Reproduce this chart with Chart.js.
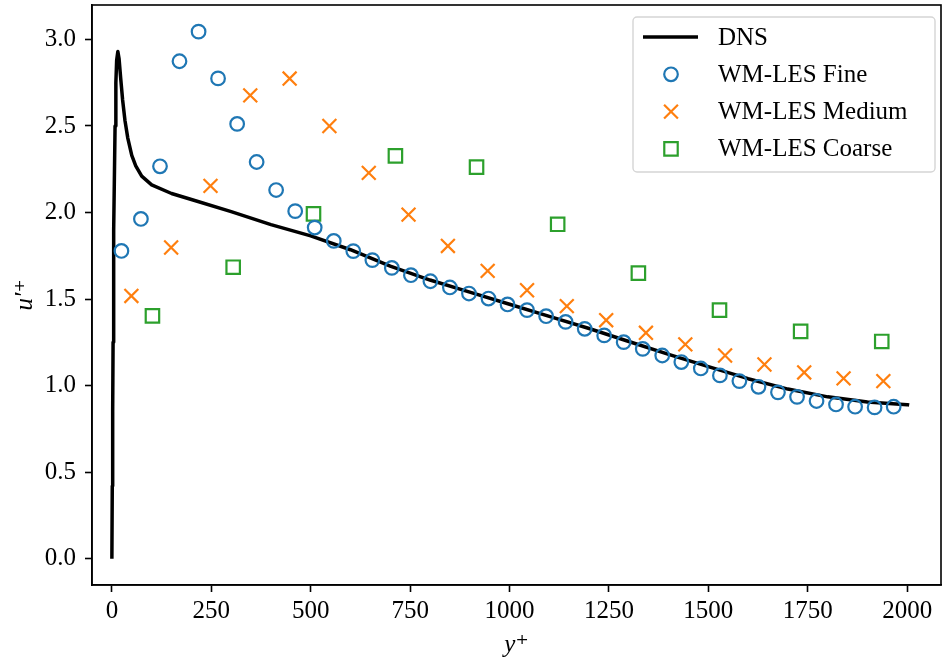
<!DOCTYPE html>
<html>
<head>
<meta charset="utf-8">
<script src="https://cdn.jsdelivr.net/npm/chart.js@4.4.0/dist/chart.umd.min.js"></script>
<style>
    html, body { margin: 0; padding: 0; background: #fff; }
    #wrap { width: 944px; height: 664px; }
</style>
</head>
<body>
<div id="wrap"><canvas id="profile_chart" width="944" height="664"></canvas></div>
<script>
// DNS reference profile
var dnsY = [0, 1, 2, 3, 4, 5, 6, 8, 10, 12, 15, 18, 22, 27, 33, 40, 50, 60, 75, 100, 150, 200,
    300, 400, 500, 600, 700, 800, 900, 1000, 1100, 1200, 1300, 1400, 1500, 1600, 1700, 1800, 1900, 2000, 2005];
var dnsU = [0, 0.42, 0.85, 1.25, 1.6, 1.9, 2.15, 2.5, 2.75, 2.88, 2.93, 2.89, 2.78, 2.65, 2.53, 2.43, 2.33, 2.27, 2.21, 2.16, 2.11, 2.075,
    2.005, 1.93, 1.865, 1.785, 1.69, 1.61, 1.54, 1.47, 1.40, 1.33, 1.255, 1.18, 1.11, 1.04, 0.98, 0.935, 0.905, 0.89, 0.888];

// WM-LES fine
var fineY = [24, 73, 121, 170, 218, 267, 315, 364, 413, 461, 510, 558, 607, 655, 704, 752, 801, 850, 898, 947,
    995, 1044, 1092, 1141, 1189, 1238, 1287, 1335, 1384, 1432, 1481, 1529, 1578, 1626, 1675, 1723, 1772, 1821, 1869, 1918, 1966];
var fineU = [1.778, 1.963, 2.267, 2.874, 3.045, 2.775, 2.512, 2.292, 2.130, 2.008, 1.913, 1.836, 1.777, 1.725, 1.680, 1.638, 1.603, 1.567, 1.532, 1.503,
    1.469, 1.436, 1.401, 1.368, 1.328, 1.290, 1.251, 1.212, 1.174, 1.136, 1.099, 1.059, 1.026, 0.993, 0.961, 0.935, 0.911, 0.891, 0.878, 0.874, 0.878];

// WM-LES medium
var mediumY = [49, 149, 248, 348, 447, 547, 646, 746, 845, 945, 1044, 1144, 1243, 1343, 1442, 1542, 1641, 1741, 1840, 1940];
var mediumU = [1.518, 1.798, 2.154, 2.677, 2.774, 2.500, 2.229, 1.988, 1.807, 1.663, 1.551, 1.459, 1.378, 1.305, 1.238, 1.174, 1.122, 1.076, 1.042, 1.026];

// WM-LES coarse
var coarseY = [102, 305, 507, 713, 917, 1121, 1324, 1528, 1732, 1936];
var coarseU = [1.403, 1.684, 1.992, 2.327, 2.262, 1.932, 1.650, 1.436, 1.313, 1.255];

var xTicks = [0, 250, 500, 750, 1000, 1250, 1500, 1750, 2000];
var yTicks = [0, 0.5, 1.0, 1.5, 2.0, 2.5, 3.0];
var seriesLabels = ['DNS', 'WM-LES Fine', 'WM-LES Medium', 'WM-LES Coarse'];

var FONT = '"Liberation Serif", "DejaVu Serif", serif';

function toPoints(xs, ys) {
    return xs.map(function(x, i) { return { x: x, y: ys[i] }; });
}

// no extra label padding: keep the plot box where the reference has it
function noPadding(s) {
    s.paddingTop = 0;
    s.paddingBottom = 0;
    s.paddingLeft = 0;
    s.paddingRight = 0;
}

// frame around the plot area
var frameBox = {
    id: 'frameBox',
    afterDraw: function(chart) {
        var a = chart.chartArea;
        var ctx = chart.ctx;
        ctx.save();
        ctx.strokeStyle = '#000';
        ctx.lineWidth = 1.6;
        ctx.strokeRect(a.left, a.top, a.right - a.left, a.bottom - a.top);
        ctx.restore();
    }
};

// matplotlib-like legend in the upper right corner
var legendBox = {
    id: 'legendBox',
    afterDatasetsDraw: function(chart) {
        var ctx = chart.ctx;
        var a = chart.chartArea;
        var w = 302, h = 155;
        var x0 = a.right - 6 - w, y0 = a.top + 12;
        ctx.save();
        ctx.beginPath();
        if (ctx.roundRect) {
            ctx.roundRect(x0, y0, w, h, 4);
        } else {
            ctx.rect(x0, y0, w, h);
        }
        ctx.fillStyle = 'rgba(255,255,255,0.8)';
        ctx.fill();
        ctx.strokeStyle = '#d5d5d5';
        ctx.lineWidth = 1.4;
        ctx.stroke();

        ctx.font = '25px ' + FONT;
        ctx.textBaseline = 'middle';
        ctx.textAlign = 'left';
        chart.data.datasets.forEach(function(ds, i) {
            var cy = y0 + 20 + i * 37.3;
            if (ds.pointRadius === 0) {
                ctx.strokeStyle = ds.borderColor;
                ctx.lineWidth = ds.borderWidth;
                ctx.beginPath();
                ctx.moveTo(x0 + 10, cy);
                ctx.lineTo(x0 + 65, cy);
                ctx.stroke();
            } else {
                ctx.strokeStyle = ds.borderColor;
                ctx.fillStyle = 'rgba(0,0,0,0)';
                ctx.lineWidth = ds.pointBorderWidth;
                Chart.helpers.drawPoint(ctx, {
                    pointStyle: ds.pointStyle,
                    radius: ds.pointRadius,
                    rotation: 0,
                    borderWidth: ds.pointBorderWidth
                }, x0 + 38, cy);
            }
            ctx.fillStyle = '#000';
            ctx.fillText(ds.label, x0 + 85, cy + 1);
        });
        ctx.restore();
    }
};

document.addEventListener('DOMContentLoaded', function() {
    var ctx = document.getElementById('profile_chart').getContext('2d');

    new Chart(ctx, {
        type: 'scatter',
        data: {
            datasets: [
                {
                    type: 'line',
                    label: seriesLabels[0],
                    data: toPoints(dnsY, dnsU),
                    borderColor: '#000000',
                    borderWidth: 3.5,
                    borderJoinStyle: 'round',
                    pointRadius: 0,
                    tension: 0,
                    fill: false,
                    order: 1
                },
                {
                    label: seriesLabels[1],
                    data: toPoints(fineY, fineU),
                    pointStyle: 'circle',
                    pointRadius: 6.8,
                    pointBorderWidth: 2.2,
                    borderColor: '#1f77b4',
                    backgroundColor: 'rgba(0,0,0,0)',
                    order: 0
                },
                {
                    label: seriesLabels[2],
                    data: toPoints(mediumY, mediumU),
                    pointStyle: 'crossRot',
                    pointRadius: 9.8,
                    pointBorderWidth: 2.2,
                    borderColor: '#ff7f0e',
                    backgroundColor: 'rgba(0,0,0,0)',
                    order: 0
                },
                {
                    label: seriesLabels[3],
                    data: toPoints(coarseY, coarseU),
                    pointStyle: 'rect',
                    pointRadius: 9.5,
                    pointBorderWidth: 2.2,
                    borderColor: '#2ca02c',
                    backgroundColor: 'rgba(0,0,0,0)',
                    order: 0
                }
            ]
        },
        options: {
            responsive: false,
            animation: false,
            events: [],
            devicePixelRatio: 1,
            layout: { autoPadding: false, padding: { top: 5, right: 3, left: 0, bottom: 0 } },
            plugins: {
                legend: { display: false },
                tooltip: { enabled: false }
            },
            scales: {
                x: {
                    type: 'linear',
                    min: -50,
                    max: 2085,
                    afterBuildTicks: function(s) {
                        s.ticks = xTicks.map(function(v) { return { value: v }; });
                    },
                    afterFit: function(s) { s.height = 79; noPadding(s); },
                    grid: { drawOnChartArea: false, drawTicks: true, tickLength: 7, tickWidth: 1.6, tickColor: '#000' },
                    border: { display: true, color: '#000', width: 1.6 },
                    ticks: {
                        color: '#000',
                        font: { family: FONT, size: 25 },
                        padding: 4,
                        maxRotation: 0,
                        autoSkip: false,
                        callback: function(v) { return String(v); }
                    },
                    title: {
                        display: true,
                        text: 'y⁺',
                        color: '#000',
                        font: { family: FONT, size: 25, style: 'italic' },
                        padding: { top: 0, bottom: 4 }
                    }
                },
                y: {
                    type: 'linear',
                    min: -0.152,
                    max: 3.199,
                    afterBuildTicks: function(s) {
                        s.ticks = yTicks.map(function(v) { return { value: v }; });
                    },
                    afterFit: function(s) { s.width = 92; noPadding(s); },
                    grid: { drawOnChartArea: false, drawTicks: true, tickLength: 7, tickWidth: 1.6, tickColor: '#000' },
                    border: { display: true, color: '#000', width: 1.6 },
                    ticks: {
                        color: '#000',
                        font: { family: FONT, size: 25 },
                        padding: 9,
                        callback: function(v) { return v.toFixed(1); }
                    },
                    title: {
                        display: true,
                        text: 'u′⁺',
                        color: '#000',
                        font: { family: FONT, size: 25, style: 'italic' },
                        padding: { top: 10, bottom: 0 }
                    }
                }
            }
        },
        plugins: [frameBox, legendBox]
    });
});
</script>
</body>
</html>
